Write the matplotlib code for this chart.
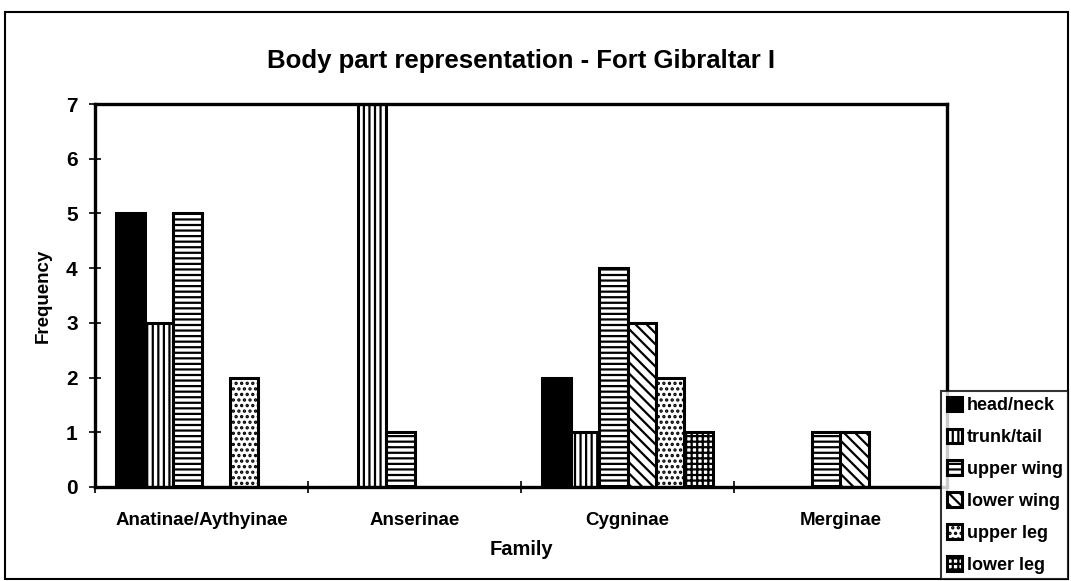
import matplotlib
matplotlib.use('Agg')
from matplotlib import pyplot as plt
from matplotlib.patches import Rectangle
import numpy as np

families = ['Anatinae/Aythyinae', 'Anserinae', 'Cygninae', 'Merginae']
parts = ['head/neck', 'trunk/tail', 'upper wing', 'lower wing', 'upper leg', 'lower leg']

head_neck = [5, 0, 2, 0]
trunk_tail = [3, 7, 1, 0]
upper_wing = [5, 1, 4, 1]
lower_wing = [0, 0, 3, 1]
upper_leg = [2, 0, 2, 0]
lower_leg = [0, 0, 1, 0]

series = [head_neck, trunk_tail, upper_wing, lower_wing, upper_leg, lower_leg]
fills = ['black', 'white', 'white', 'white', 'white', 'white']
hatches = [None, '|||', '---', '\\\\\\', '...', '+++']

plt.rcParams['font.family'] = ['Liberation Sans', 'DejaVu Sans']
plt.rcParams['font.weight'] = 'bold'
plt.rcParams['hatch.linewidth'] = 1.6

fig = plt.figure(figsize=(10.71, 5.81), dpi=100)
ax = fig.add_axes([95 / 1071, 1 - 487 / 581, 852 / 1071, 383 / 581])

n = len(series)
gap = 1.5
w = 1.0 / (n + gap)
x = np.arange(len(families))
for i, (vals, fc, h, lab) in enumerate(zip(series, fills, hatches, parts)):
    pos = x - 0.5 + (gap / 2 + i + 0.5) * w
    ax.bar(pos, vals, width=w, color=fc, edgecolor='black', hatch=h,
           linewidth=2.2, label=lab, zorder=2)

ax.set_xlim(-0.5, len(families) - 0.5)
ax.set_ylim(0, 7)
ax.set_yticks(range(0, 8))
ax.set_xticks(np.arange(len(families) + 1) - 0.5)
ax.set_xticklabels([])
ax.set_xticks(x, minor=True)
ax.set_xticklabels(families, minor=True, fontsize=13.5, fontweight='bold')
ax.tick_params(axis='x', which='minor', length=0, pad=18)
ax.tick_params(axis='x', which='major', direction='inout', length=9, width=1.2)
ax.tick_params(axis='y', direction='inout', length=9, width=1.2, labelsize=15, pad=8)
for s in ax.spines.values():
    s.set_linewidth(2.4)

ax.set_ylabel('Frequency', fontsize=13.5, fontweight='bold', labelpad=10)
ax.set_xlabel('Family', fontsize=14.5, fontweight='bold', labelpad=8)
ax.set_title('Body part representation - Fort Gibraltar I', fontsize=18.5,
             fontweight='bold', pad=26)

# outer chart frame
fig.patches.append(Rectangle((5 / 1071, 1 - 579 / 581), 1063 / 1071, 567 / 581,
                             transform=fig.transFigure, fill=False,
                             edgecolor='black', linewidth=1.5))

leg = fig.legend(loc='lower right', bbox_to_anchor=(1068 / 1071, 2 / 581),
                 fontsize=13, frameon=True, fancybox=False, edgecolor='black',
                 handlelength=0.85, handleheight=0.85, handletextpad=0.25,
                 borderpad=0.3, labelspacing=0.8, borderaxespad=0)
leg.get_frame().set_linewidth(1.5)
leg.set_zorder(5)

fig.savefig('out.png', dpi=100)
